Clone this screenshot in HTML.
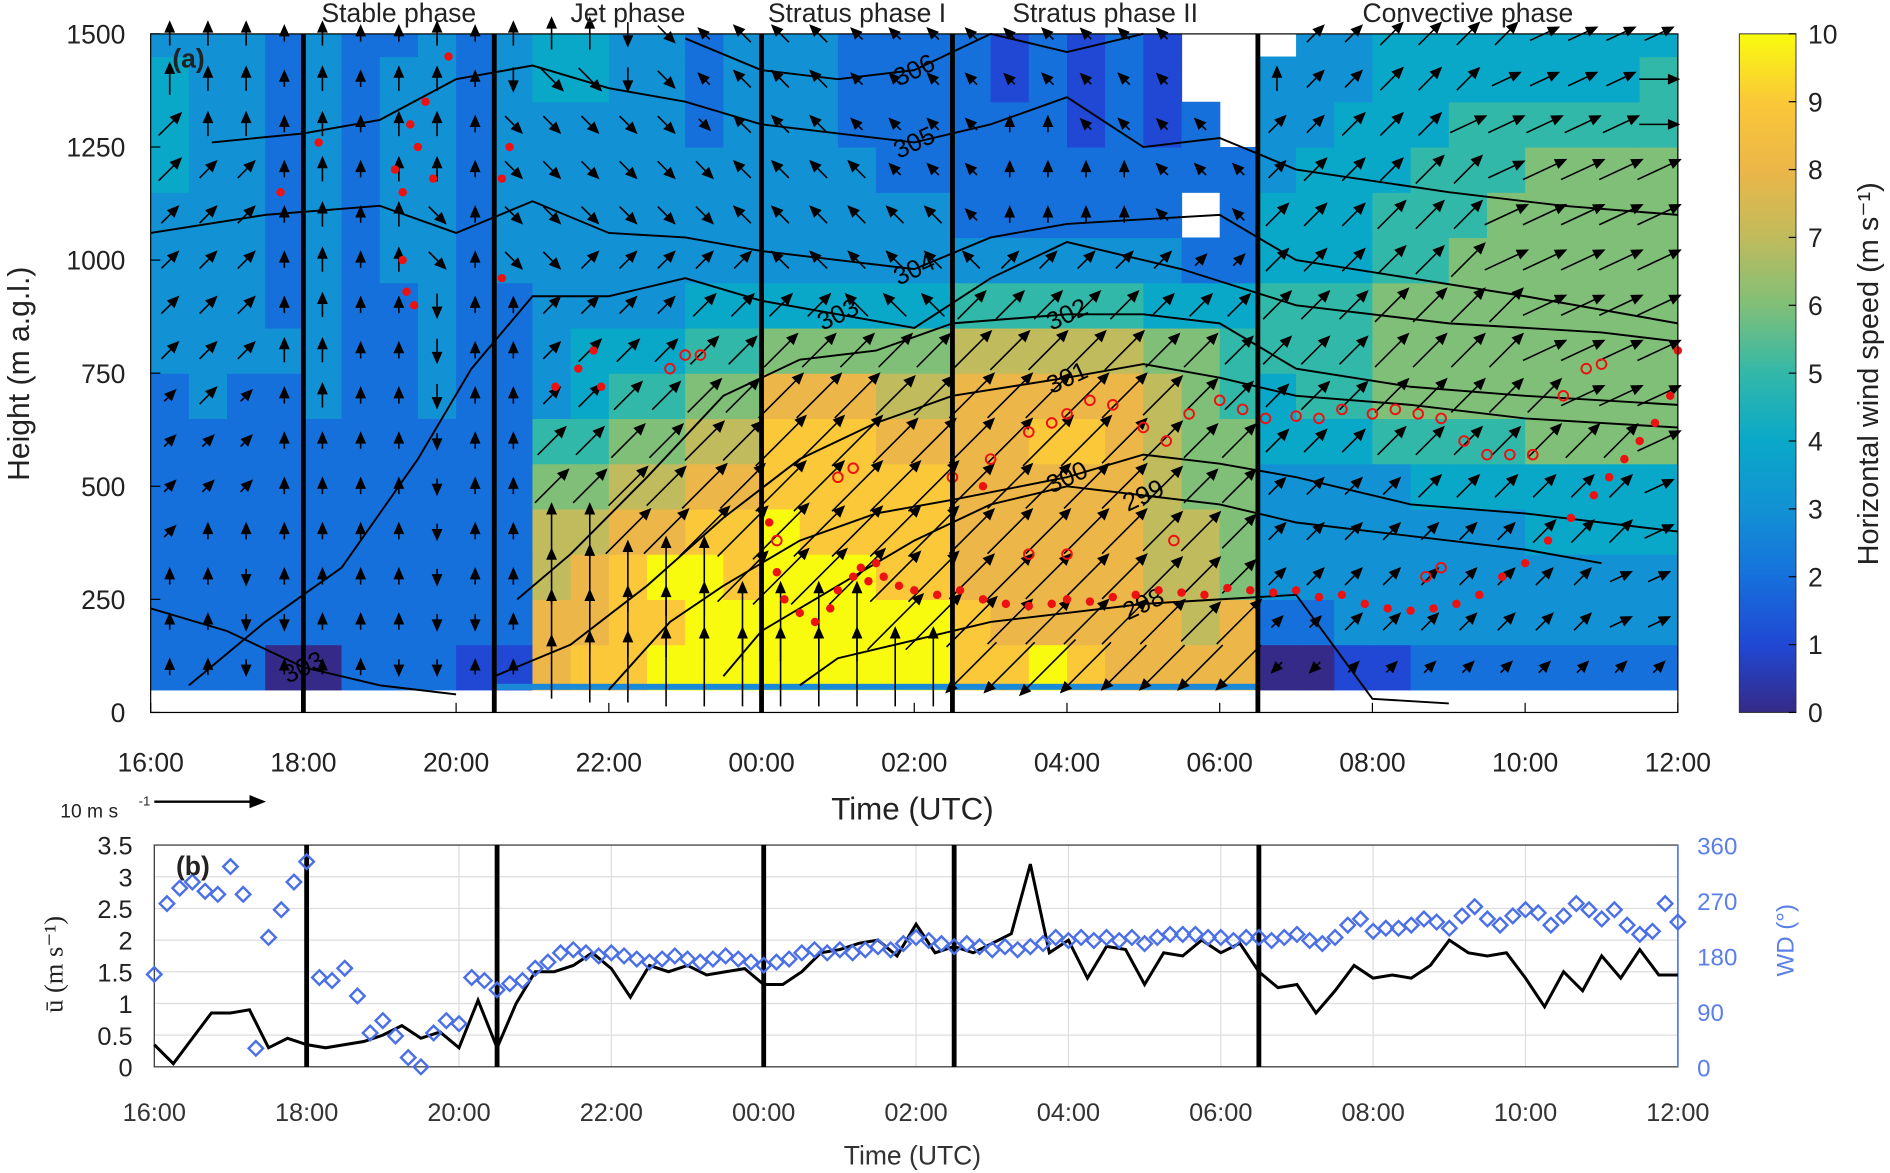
<!DOCTYPE html>
<html><head><meta charset="utf-8"><style>
html,body{margin:0;padding:0;background:#fff;}
svg{display:block;font-family:"Liberation Sans",sans-serif;}
</style></head><body>
<svg id="chart" width="1890" height="1173" viewBox="0 0 1568 973" xmlns="http://www.w3.org/2000/svg">
<g id="gA"></g>
<g id="gB"></g>
</svg>
<script>
// ---------- DATA ----------
// wind speed grid: rows bottom(50-150m) to top, 40 half-hour columns from 16:00; 'a'=10, '-'=missing
const speedRows = [
"222002221"+"1899aaa"+"aaaaa"+"99a98888"+"00112222222",
"222222222"+"28899aa"+"aaaaa"+"98888878"+"22333333333",
"222222222"+"2789aa9"+"aaa99"+"88888776"+"33333333333",
"222222222"+"2778899"+"a9999"+"88888776"+"33333334444",
"222222222"+"2667788"+"99999"+"88888766"+"33334444444",
"222222222"+"2556677"+"99988"+"88998766"+"44455556666",
"232232232"+"2345566"+"88877"+"88888765"+"45566666666",
"333332232"+"2344455"+"66666"+"77777665"+"55566666666",
"333232232"+"2333344"+"44444"+"55555444"+"55566666666",
"333232332"+"3333333"+"33333"+"33333322"+"44455666666",
"333232332"+"3333333"+"33333"+"222222-2"+"44455566666",
"433232332"+"3333333"+"33322"+"22222222"+"34445556666",
"433232332"+"3333323"+"33222"+"2221212-"+"33444555555",
"433232332"+"3443323"+"33222"+"212121--"+"33344444445",
"333232232"+"3443323"+"33222"+"212121--"+"-3344444444"];
// wind direction grid (arrow heading): u up, e up-right, f shallow up-right, r right, l left, z down-left, q up-left, d down, c down-right
const dirRows = [
"uuduuuddu"+"uuuuuuu"+"uuuuu"+"zzzzzzzz"+"zzeeeeeeeee",
"uudduuudd"+"uuuuuuu"+"uuuee"+"eeeeeeee"+"eeeeeeeeeff",
"uuduuuudu"+"uuuuuue"+"eeeee"+"eeeeeeee"+"eeeeeeeeeff",
"euuuuuudu"+"uuueeee"+"eeeee"+"eeeeeeee"+"eeeeeeeeeef",
"eeeuuuudu"+"ueeeeee"+"eeeee"+"eeeeeeee"+"eeeeeeeeeef",
"eeeuuuudu"+"ueeeeee"+"eeeee"+"eeeeeeee"+"eeeeeeeeeef",
"eeeuuuudu"+"ueeeeee"+"eeeee"+"eeeeeeee"+"eeeeeeeefff",
"eeeuuuudu"+"ueeeeee"+"eeeee"+"eeeeeeee"+"eeeeeeeffff",
"eeeuuuudu"+"ueeeeee"+"eeqqq"+"eeeeeeee"+"eeeeeeeffff",
"eeeuuuucu"+"cceeeee"+"qqqqq"+"qeeeeeee"+"eeeeeefffff",
"eeeuuuucu"+"ccccccq"+"qqqqq"+"quuuuqqq"+"eeeeeefffff",
"eeeuuuuuu"+"ccccccq"+"qqqqq"+"quuuuqqq"+"eeeeeefffff",
"euuuuuuuu"+"ccccccq"+"qqqqq"+"quuqqqqq"+"eeeeefffffr",
"uuuuuuuuu"+"dccdcqq"+"qqqqq"+"qqqqqqqq"+"ueeeeeffffr",
"uuuuuuuuu"+"uuudcqq"+"qqqqq"+"qqqqqqqq"+"ueeeeeeffff"];
const phaseNames = ["Stable phase","Jet phase","Stratus phase I","Stratus phase II","Convective phase"];
const phaseBounds = [2, 4.5, 8, 10.5, 14.5, 20]; // hours since 16:00
const timeTicks = ["16:00","18:00","20:00","22:00","00:00","02:00","04:00","06:00","08:00","10:00","12:00"];
const heightTicks = [0,250,500,750,1000,1250,1500];
// potential temperature contours: [t,h,...]
const contourLabels = ["306","305","304","303","302","301","300","299","298","303"];
const contourPts = [
[7,1490,8,1420,9,1400,10,1420,11,1500,12,1460,13,1500],
[0.8,1260,2,1280,3,1310,4,1400,5,1430,6,1380,7,1350,8,1300,9,1280,10,1260,11,1300,12,1360,13,1250,14,1270,15,1200,17,1150,18.5,1120,20,1100],
[0,1060,1.5,1100,3,1120,4,1060,5,1130,6,1060,7,1050,8,1020,9,1000,10,980,11,1050,12,1080,13,1090,14,1100,15,1000,16.5,960,18,920,20,860],
[0.5,60,1.5,200,2.5,320,3.5,560,4.2,760,5,920,6,920,7,960,8,910,9,880,10,850,11,960,12,1040,13.5,980,15,900,17,860,19,840,20,820],
[4.8,250,5.5,350,6.5,520,7.5,700,8.5,780,9.5,800,10.5,860,12,880,13,880,14,860,15,760,16.5,720,18,700,20,680],
[4.5,80,5.5,150,6.5,280,7.5,430,8.5,560,9.5,640,10.5,700,12,740,13,770,14,740,15,700,16.5,680,18,650,20,630],
[6,50,6.8,200,7.5,280,8.5,380,9.5,440,10.5,470,12,520,13,570,14,550,15,520,16.5,460,18,440,20,400],
[7.5,80,8,180,9,280,10,380,11,460,12,500,13,480,14,460,15,420,16,400,17,380,18,360,19,330],
[8.5,60,9,120,10,160,11,200,12,220,13,240,14,250,15,260,16,30,17,20],
[0,230,1,180,2,100,3,60,4,40]];
// boundary-layer height markers [t,h,...]
const blhFilled = [8.1,420,8.2,310,8.3,250,8.5,220,8.7,200,8.9,230,9.0,270,9.2,300,9.4,290,9.6,300,9.8,280,10.0,270,10.3,260,10.6,270,10.9,250,11.2,240,11.5,235,11.8,240,12.0,250,12.3,245,12.6,255,12.9,260,13.2,270,13.5,265,13.8,260,14.1,275,14.4,270,14.7,265,15.0,270,15.3,255,15.6,260,15.9,240,16.2,230,16.5,225,16.8,230,17.1,240,17.4,260,17.7,300,18.0,330,18.3,380,18.6,430,18.9,480,19.1,520,19.3,560,19.5,600,19.7,640,19.9,700,20,800,
3.2,1200,3.3,1150,3.4,1300,3.5,1250,3.6,1350,3.3,1000,3.35,930,3.45,900,3.7,1180,3.9,1450,4.6,1180,4.7,1250,4.6,960,1.7,1150,2.2,1260,5.3,720,5.6,760,5.8,800,5.9,720,10.9,500,9.3,320,9.5,330];
const blhOpen = [6.8,760,7.0,790,7.2,790,8.2,380,9.0,520,9.2,540,10.5,520,11.0,560,11.5,620,11.8,640,12.0,660,12.3,690,12.6,680,13.0,630,13.3,600,13.6,660,14.0,690,14.3,670,14.6,650,15.0,655,15.3,650,15.6,670,16.0,660,16.3,670,16.6,660,16.9,650,17.2,600,17.5,570,17.8,570,18.1,570,18.5,700,18.8,760,19.0,770,11.5,350,12.0,350,13.4,380,16.7,300,16.9,320];
// panel b
const uBar = [0.35,0.05,0.45,0.85,0.85,0.9,0.3,0.45,0.35,0.3,0.35,0.4,0.5,0.65,0.45,0.55,0.3,1.05,0.3,1.0,1.5,1.5,1.6,1.8,1.55,1.1,1.6,1.5,1.6,1.45,1.5,1.55,1.3,1.3,1.5,1.8,1.85,1.95,2.0,1.75,2.25,1.8,1.9,1.8,1.95,2.1,3.2,1.8,2.0,1.4,1.9,1.85,1.3,1.8,1.75,2.0,1.8,1.95,1.5,1.25,1.3,0.85,1.2,1.6,1.4,1.45,1.4,1.6,2.0,1.8,1.75,1.8,1.4,0.95,1.5,1.2,1.75,1.4,1.85,1.45,1.45];
const windDir = [150,265,290,300,285,280,325,280,30,210,255,300,333,145,140,160,115,55,75,50,15,0,55,75,70,145,140,125,135,140,160,170,185,190,185,180,185,180,175,170,175,180,175,170,175,180,175,170,165,170,175,185,190,185,190,185,190,195,190,200,210,205,200,195,200,195,190,195,190,195,200,210,205,210,205,210,205,210,200,210,215,215,215,210,210,205,210,210,205,210,215,205,200,210,230,240,220,225,225,230,240,235,225,245,260,240,230,245,255,250,230,245,265,255,240,255,230,215,220,265,235];
const uTicks = ["0","0.5","1","1.5","2","2.5","3","3.5"];
const wdTicks = [0,90,180,270,360];

// ---------- SCALES ----------
const X=t=>125+t*63.35, Y=h=>591-h*0.3753;
const Xb=t=>128+t*63.2, Yb=u=>885-u*52.57, Yw=d=>885-d*184/360;
const NS="http://www.w3.org/2000/svg";
function mk(parent,tag,attrs,name,txt){const e=document.createElementNS(NS,tag);for(const k in attrs)e.setAttribute(k,attrs[k]);


if(txt!==undefined)e.textContent=txt;parent.appendChild(e);return e;}
const stops=[[53,42,135],[32,72,212],[22,112,220],[18,146,212],[10,168,200],[50,184,168],[128,191,120],[192,187,92],[236,182,72],[250,200,56],[249,251,14]];
function col(v){v=Math.max(0,Math.min(10,v));const i=Math.min(9,Math.floor(v)),f=v-i,a=stops[i],b=stops[i+1];
return `rgb(${a.map((c,k)=>Math.round(c+(b[k]-c)*f)).join(',')})`;}
const gA=document.getElementById('gA'), gB=document.getElementById('gB');
const val=ch=>ch==='a'?10:+ch;

// ---------- PANEL A ----------
const gHeat=mk(gA,'g',{},'heatmap');
speedRows.forEach((row,r)=>{const h0=50+r*100,h1=Math.min(1500,150+r*100);
 for(let c=0;c<row.length;c++){const ch=row[c];if(ch==='-')continue;
  mk(gHeat,'rect',{x:X(c*0.5),y:Y(h1),width:X(c*0.5+0.5)-X(c*0.5)+0.5,height:Y(h0)-Y(h1)+0.5,fill:col(val(ch))},'heatmap-cell');}});
mk(gA,'rect',{x:X(4.5),y:Y(50)-5,width:X(14.5)-X(4.5),height:5,fill:"#1a8ad8"},'surface-strip');
// contours
const gC=mk(gA,'g',{fill:'none',stroke:'#000','stroke-width':1.6},'contours');
contourPts.forEach((p,i)=>{let d='';for(let k=0;k<p.length;k+=2)d+=(k?'L':'M')+X(p[k]).toFixed(1)+','+Y(p[k+1]).toFixed(1);
 mk(gC,'path',{d},'contour-line');
 const m=Math.floor(p.length/4)*2;
 mk(gA,'text',{x:X(p[m]),y:Y(p[m+1])+7,'font-size':21,fill:'#000','text-anchor':'middle',transform:`rotate(-25 ${X(p[m])} ${Y(p[m+1])})`},'contour-label',contourLabels[i]);});
// arrows
const dv={u:[0,-1],e:[0.707,-0.707],f:[0.906,-0.423],r:[1,0],l:[-1,0],z:[-0.707,0.707],q:[-0.707,-0.707],d:[0,1],c:[0.707,0.707]};
const gW=mk(gA,'g',{stroke:'#000','stroke-width':1.3,fill:'#000'},'wind-arrows');
speedRows.forEach((row,r)=>{for(let c=0;c<row.length;c++){const ch=row[c];if(ch==='-')continue;const v=val(ch);
 const [dx,dy]=dv[dirRows[r][c]]; const L=Math.max(12,v*6.5);
 const cx=X(c*0.5+0.25), cy=Y(100+r*100); const x0=cx-dx*L/2,y0=cy-dy*L/2,x1=cx+dx*L/2,y1=cy+dy*L/2;
 const px=-dy,py=dx; const hx=x1-dx*8,hy=y1-dy*8;
 mk(gW,'path',{d:`M${x0.toFixed(1)},${y0.toFixed(1)}L${hx.toFixed(1)},${hy.toFixed(1)}M${x1.toFixed(1)},${y1.toFixed(1)}L${(hx+px*3.5).toFixed(1)},${(hy+py*3.5).toFixed(1)}L${(hx-px*3.5).toFixed(1)},${(hy-py*3.5).toFixed(1)}Z`},'wind-arrow');}});
// blh markers
for(let k=0;k<blhFilled.length;k+=2)mk(gA,'circle',{cx:X(blhFilled[k]),cy:Y(blhFilled[k+1]),r:3.5,fill:'#ee1111'},'blh-point');
for(let k=0;k<blhOpen.length;k+=2)mk(gA,'circle',{cx:X(blhOpen[k]),cy:Y(blhOpen[k+1]),r:4,fill:'none',stroke:'#ee1111','stroke-width':1.6},'blh-open-point');
// frame & phase lines
mk(gA,'rect',{x:X(0),y:Y(1500),width:X(20)-X(0),height:Y(0)-Y(1500),fill:'none',stroke:'#000','stroke-width':1},'plot-frame-a');
phaseBounds.slice(0,5).forEach((t,i)=>{ mk(gA,'line',{x1:X(t),x2:X(t),y1:Y(1500),y2:Y(0),stroke:'#000','stroke-width':4},'phase-line');
 mk(gA,'text',{x:(X(t)+X(phaseBounds[i+1]))/2,y:18,'font-size':22,'text-anchor':'middle',fill:'#222'},'phase-label',phaseNames[i]);});
timeTicks.forEach((s,i)=>{const x=X(i*2);mk(gA,'line',{x1:x,x2:x,y1:591,y2:583,stroke:'#000'},'x-tick');
 mk(gA,'text',{x,y:640,'font-size':22,'text-anchor':'middle',fill:'#222'},'x-tick-label',s);});
heightTicks.forEach(h=>{const y=Y(h);mk(gA,'line',{x1:125,x2:133,y1:y,y2:y,stroke:'#000'},'y-tick');
 mk(gA,'text',{x:104,y:y+8,'font-size':22,'text-anchor':'end',fill:'#222'},'y-tick-label',String(h));});
mk(gA,'text',{x:143,y:56,'font-size':22,'font-weight':'bold',fill:'#222'},'panel-a-label','(a)');
mk(gA,'text',{x:24,y:310,'font-size':25,'text-anchor':'middle',fill:'#222',transform:'rotate(-90 24 310)'},'y-axis-title','Height (m a.g.l.)');
mk(gA,'text',{x:757,y:680,'font-size':26,'text-anchor':'middle',fill:'#222'},'x-axis-title','Time (UTC)');
// scale arrow
mk(gA,'text',{x:50,y:678,'font-size':16,fill:'#222'},'scale-arrow-label','10 m s');
mk(gA,'text',{x:115,y:668,'font-size':11,fill:'#222'},'scale-arrow-exp','-1');
mk(gA,'path',{d:'M128,665L210,665M218,665L208,661L208,669Z',stroke:'#000','stroke-width':2,fill:'#000'},'scale-arrow');
// colorbar
const defs=mk(document.getElementById('chart'),'defs',{},'defs');
const gr=mk(defs,'linearGradient',{id:'cb',x1:0,y1:1,x2:0,y2:0},'colorbar-gradient');
stops.forEach((s,i)=>mk(gr,'stop',{offset:i/10,'stop-color':`rgb(${s.join(',')})`},'gradient-stop'));
mk(gA,'rect',{x:1443,y:28,width:47,height:563,fill:'url(#cb)',stroke:'#333','stroke-width':0.8},'colorbar');
for(let v=0;v<=10;v++){const y=591-v*56.3;mk(gA,'line',{x1:1484,x2:1490,y1:y,y2:y,stroke:'#000'},'colorbar-tick');
 mk(gA,'text',{x:1500,y:y+8,'font-size':22,fill:'#222'},'colorbar-tick-label',String(v));}
mk(gA,'text',{x:1558,y:310,'font-size':24,'text-anchor':'middle',fill:'#222',transform:'rotate(-90 1558 310)'},'colorbar-title','Horizontal wind speed (m s\u207B\u00B9)');

// ---------- PANEL B ----------
for(let i=0;i<=10;i++)mk(gB,'line',{x1:Xb(i*2),x2:Xb(i*2),y1:Yb(3.5),y2:Yb(0),stroke:'#ddd'},'grid-v');
uTicks.forEach((s,i)=>{const y=Yb(i*0.5);mk(gB,'line',{x1:128,x2:1392,y1:y,y2:y,stroke:'#ddd'},'grid-h');
 mk(gB,'text',{x:110,y:y+8,'font-size':21,'text-anchor':'end',fill:'#222'},'u-tick-label',s);});
wdTicks.forEach(d=>{mk(gB,'text',{x:1408,y:Yw(d)+8,'font-size':20,fill:'#5b7fe8'},'wd-tick-label',String(d));});
mk(gB,'rect',{x:128,y:Yb(3.5),width:1264,height:Yb(0)-Yb(3.5),fill:'none',stroke:'#333'},'plot-frame-b');
mk(gB,'line',{x1:1392,x2:1392,y1:Yb(3.5),y2:Yb(0),stroke:'#5b7fe8','stroke-width':1.5},'right-axis');
timeTicks.forEach((s,i)=>mk(gB,'text',{x:Xb(i*2),y:930,'font-size':21,'text-anchor':'middle',fill:'#333'},'b-x-tick-label',s));
phaseBounds.slice(0,5).forEach(t=>mk(gB,'line',{x1:Xb(t),x2:Xb(t),y1:Yb(3.5),y2:Yb(0),stroke:'#000','stroke-width':4},'phase-line-b'));
let d='';uBar.forEach((u,i)=>{d+=(i?'L':'M')+Xb(i*0.25).toFixed(1)+','+Yb(u).toFixed(1);});
mk(gB,'path',{d,fill:'none',stroke:'#000','stroke-width':2.5},'u-bar-line');
windDir.forEach((w,i)=>{const x=Xb(i/6),y=Yw(w);mk(gB,'path',{d:`M${x},${y-6}L${x+6},${y}L${x},${y+6}L${x-6},${y}Z`,fill:'none',stroke:'#4a6fe6','stroke-width':2},'wd-marker');});
mk(gB,'text',{x:146,y:726,'font-size':22,'font-weight':'bold',fill:'#222'},'panel-b-label','(b)');
mk(gB,'text',{x:52,y:800,'font-size':22,'text-anchor':'middle',fill:'#222',transform:'rotate(-90 52 800)','font-family':'Liberation Serif, serif'},'u-axis-title','\u016B (m s\u207B\u00B9)');
mk(gB,'text',{x:1488,y:780,'font-size':20,'text-anchor':'middle',fill:'#5b7fe8',transform:'rotate(-90 1488 780)'},'wd-axis-title','WD (\u00B0)');
mk(gB,'text',{x:757,y:966,'font-size':22,'text-anchor':'middle',fill:'#333'},'b-x-axis-title','Time (UTC)');
</script>
</body></html>
